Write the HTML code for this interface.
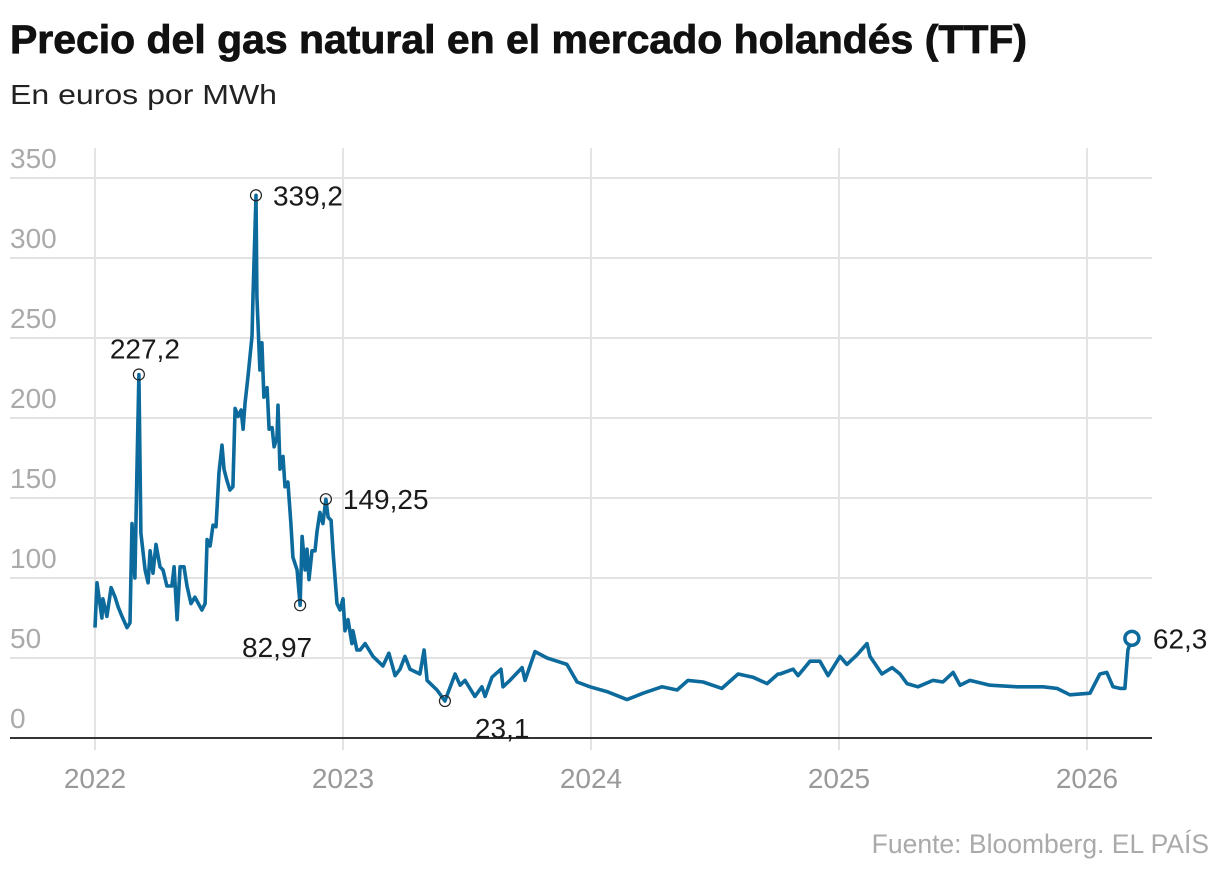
<!DOCTYPE html>
<html><head><meta charset="utf-8"><style>
html,body{margin:0;padding:0;background:#fff;}
svg{display:block;font-family:"Liberation Sans",sans-serif;}
</style></head><body>
<svg id="chart" width="1220" height="874" viewBox="0 0 1220 874" xmlns="http://www.w3.org/2000/svg">
<text x="10" y="53" font-size="40" font-weight="bold" fill="#111" stroke="#111" stroke-width="0.8" textLength="1017" lengthAdjust="spacingAndGlyphs">Precio del gas natural en el mercado holandés (TTF)</text>
<text x="10" y="104" font-size="28" fill="#222" textLength="267" lengthAdjust="spacingAndGlyphs">En euros por MWh</text>
<g id="grid"></g>
<g id="plot"></g>
<g id="ann"></g>
<text x="1209" y="853" font-size="26.5" fill="#aaa" text-anchor="end">Fuente: Bloomberg. EL PAÍS</text>
</svg>
<script>
const years = [2022, 2023, 2024, 2025, 2026];
const yTicks = [0, 50, 100, 150, 200, 250, 300, 350];
const dates = [0,0.008,0.028,0.032,0.048,0.065,0.081,0.093,0.109,0.129,0.141,0.149,0.161,0.169,0.177,0.185,0.202,0.214,0.222,0.234,0.246,0.262,0.274,0.290,0.310,0.319,0.331,0.343,0.359,0.371,0.387,0.403,0.431,0.444,0.452,0.464,0.476,0.488,0.5,0.512,0.520,0.532,0.544,0.556,0.565,0.577,0.589,0.597,0.605,0.617,0.633,0.637,0.649,0.653,0.665,0.673,0.681,0.694,0.702,0.714,0.722,0.734,0.738,0.746,0.758,0.766,0.778,0.790,0.798,0.815,0.827,0.835,0.847,0.855,0.863,0.875,0.887,0.895,0.907,0.919,0.931,0.940,0.952,0.960,0.976,0.988,1.0,1.008,1.020,1.036,1.040,1.056,1.069,1.089,1.121,1.161,1.185,1.210,1.230,1.250,1.270,1.310,1.327,1.339,1.379,1.411,1.452,1.472,1.492,1.532,1.560,1.573,1.601,1.637,1.645,1.673,1.722,1.734,1.774,1.823,1.863,1.903,1.944,1.996,2.064,2.145,2.210,2.286,2.347,2.391,2.452,2.528,2.593,2.653,2.710,2.754,2.762,2.815,2.835,2.883,2.923,2.956,3.004,3.032,3.073,3.113,3.125,3.173,3.214,3.246,3.274,3.318,3.379,3.419,3.460,3.488,3.528,3.609,3.718,3.823,3.879,3.931,4.012,4.052,4.080,4.105,4.133,4.153,4.165,4.181];
const prices = [69,97,75,87,76,94,88,82,76,69,72,134,100,166,227.2,128,105,97,117,103,121,107,105,95,95,107,74,107,107,95,84,88,80,84,124,120,133,132,166,183,168,161,155,157,206,201,205,193,209,226,251,276,339.2,276,230,247,213,219,193,194,182,188,208,168,176,157,160,134,113,105,82.97,126,105,118,99,117,117,129,141,134,149.25,138,136,116,84,80,87,67,74,59,67,55,55,59,51,45,53,39,43,51,43,40,55,36,30,23.1,40,33,36,26,32,26,38,43,32,36,44,36,54,50,48,46,35,32,29,24,28,32,30,36,35,31,40,38,34,40,40,43,39,48,48,39,51,46,52,59,51,40,44,40,34,32,36,35,41,33,36,33,32,32,31,27,28,40,41,32,31,31,55,62.3];
const annLabels = ["227,2","339,2","149,25","82,97","23,1","62,3"];
const annValues = [227.2,339.2,149.25,82.97,23.1,62.3];

const NS="http://www.w3.org/2000/svg";
const X0=95, PX_PER_YEAR=248, Y0=738, PX_PER_UNIT=1.6, LEFT=10, RIGHT=1152;
const xScale=t=>X0+t*PX_PER_YEAR;
const yScale=v=>Y0-v*PX_PER_UNIT;
function mk(tag,attrs,parent,text){const e=document.createElementNS(NS,tag);for(const k in attrs)e.setAttribute(k,attrs[k]);if(text!==undefined)e.textContent=text;parent.appendChild(e);return e;}
const grid=document.getElementById('grid'), plot=document.getElementById('plot'), ann=document.getElementById('ann');

yTicks.forEach(v=>{
  if(v>0){const l=mk('line',{x1:LEFT,x2:RIGHT,y1:yScale(v),y2:yScale(v),stroke:'#e3e3e3','stroke-width':2},grid);
  
  }
  const t=mk('text',{x:LEFT,y:yScale(v)-10,'font-size':28,fill:'#aaa'},grid,String(v));
  
  
});
years.forEach(y=>{
  const x=xScale(y-2022);
  const l=mk('line',{x1:x,x2:x,y1:148,y2:750,stroke:'#e3e3e3','stroke-width':2},grid);
  
  
  const t=mk('text',{x:x,y:788,'font-size':28,fill:'#999','text-anchor':'middle'},grid,String(y));
  
  
});
const axis=mk('line',{x1:LEFT,x2:RIGHT,y1:Y0,y2:Y0,stroke:'#333','stroke-width':2},grid);



const pts=dates.map((d,i)=>xScale(d).toFixed(1)+','+yScale(prices[i]).toFixed(1)).join(' ');
const line=mk('polyline',{points:pts,fill:'none',stroke:'#0c6a9c','stroke-width':3.6,'stroke-linejoin':'round'},plot);



const offs=[[6,-16,'middle'],[17,10,'start'],[17,10,'start'],[12,52,'end'],[30,37,'start'],[21,10,'start']];
annValues.forEach((v,i)=>{
  const idx=prices.indexOf(v);
  const cx=xScale(dates[idx]), cy=yScale(v);
  const last=i===annValues.length-1;
  const c=mk('circle',{cx:cx,cy:cy,r:last?7:5.5,fill:'#fff','fill-opacity':last?1:0,stroke:last?'#0c6a9c':'#222','stroke-width':last?3.5:1.2},ann);
  
  
  const o=offs[i];
  const t=mk('text',{x:cx+o[0],y:cy+o[1],'font-size':28,fill:'#1a1a1a','text-anchor':o[2]},ann,annLabels[i]);
  
  
});
</script>
</body></html>
